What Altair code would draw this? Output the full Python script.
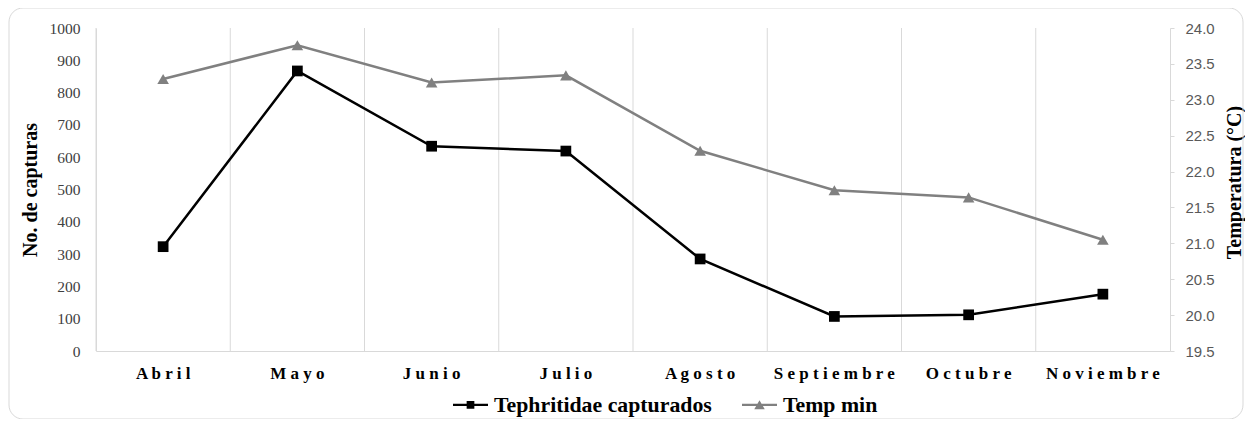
import altair as alt
import pandas as pd

meses = ['Abril', 'Mayo', 'Junio', 'Julio', 'Agosto', 'Septiembre', 'Octubre', 'Noviembre']
capturas = [323, 867, 634, 619, 285, 107, 112, 176]
temp_min = [23.29, 23.76, 23.24, 23.34, 22.29, 21.74, 21.64, 21.05]
series = ['Tephritidae capturados', 'Temp min']
left_ticks = [0, 100, 200, 300, 400, 500, 600, 700, 800, 900, 1000]
right_ticks = [19.5, 20.0, 20.5, 21.0, 21.5, 22.0, 22.5, 23.0, 23.5, 24.0]

df = pd.DataFrame({'mes': meses, 'capturas': capturas, 'temp': temp_min})
df_leg = pd.DataFrame({'serie': series})

W, H = 1074, 323
SERIF = 'Liberation Serif'
SANS = 'Liberation Sans'
GRID = '#d9d9d9'

xscale = alt.Scale(type='band', paddingInner=0, paddingOuter=0)
xaxis = alt.Axis(
    title=None, ticks=False, grid=False, domainColor=GRID, domainWidth=1,
    labelFont=SERIF, labelFontSize=17, labelFontWeight='bold', labelColor='black',
    labelPadding=14, labelAngle=0, labelLimit=0,
    labelExpr="join(split(datum.label, ''), ' ')",
)


def xenc(**kw):
    return alt.X('mes:N', sort=meses, scale=xscale, axis=xaxis, **kw)


base = alt.Chart(df)

frame = alt.Chart(pd.DataFrame({'a': [0]})).mark_rect(
    fill='white', fillOpacity=0, stroke=GRID, strokeWidth=1, cornerRadius=14
).encode(
    x=alt.value(-87), x2=alt.value(W + 73), y=alt.value(-20), y2=alt.value(H + 68)
)

grid = base.mark_rule(color=GRID, strokeWidth=1).encode(
    x=xenc(bandPosition=0), y=alt.value(0), y2=alt.value(H)
)

yleft = alt.Y(
    'capturas:Q',
    scale=alt.Scale(domain=[0, 1000], nice=False),
    axis=alt.Axis(
        orient='left', values=left_ticks, format='d', ticks=False, grid=False,
        domainColor=GRID, labelFont=SERIF, labelFontSize=15.5, labelColor='#404040',
        labelPadding=16, title='No. de capturas', titleFont=SERIF, titleFontSize=20,
        titleFontWeight='bold', titleColor='black', titlePadding=9,
    ),
)

yright = alt.Y(
    'temp:Q',
    scale=alt.Scale(domain=[19.5, 24.0], nice=False, zero=False),
    axis=alt.Axis(
        orient='right', values=right_ticks, format='.1f', ticks=True, tickSize=4,
        tickColor=GRID, grid=False, domainColor=GRID, labelFont=SANS,
        labelFontSize=15, labelColor='#595959', labelPadding=11,
        title='Temperatura (°C)', titleFont=SERIF, titleFontSize=20,
        titleFontWeight='bold', titleColor='black', titlePadding=10,
        titleAngle=270, titleBaseline='top', titleY=154,
    ),
)

left_line = base.mark_line(color='black', strokeWidth=2.5).encode(x=xenc(), y=yleft)
left_pts = base.mark_point(shape='square', filled=True, size=115, color='black', opacity=1).encode(
    x=xenc(), y=yleft
)
left = alt.layer(left_line, left_pts)

right_line = base.mark_line(color='#808080', strokeWidth=2.5).encode(x=xenc(), y=yright)
right_pts = base.mark_point(shape='triangle-up', filled=True, size=135, color='#808080', opacity=1).encode(
    x=xenc(), y=yright
)
right = alt.layer(right_line, right_pts)

sq_path = 'M-1,-0.07H1V0.07H-1Z M-0.22,-0.22H0.22V0.22H-0.22Z'
tri_path = 'M-1,-0.07H1V0.07H-1Z M0,-0.27L0.3,0.25H-0.3Z'

leg = alt.Legend(
    title=None, orient='none', legendX=357, legendY=359, direction='horizontal',
    symbolSize=1225, symbolStrokeWidth=0, labelFont=SERIF, labelFontSize=21.8,
    labelFontWeight='bold', labelColor='black', labelOffset=6, columnPadding=30,
    padding=0, labelLimit=0,
)

legend_layer = alt.Chart(df_leg).transform_filter('false').mark_point(filled=True, opacity=1).encode(
    color=alt.Color('serie:N', scale=alt.Scale(domain=series, range=['black', '#808080']), legend=leg),
    shape=alt.Shape('serie:N', scale=alt.Scale(domain=series, range=[sq_path, tri_path]), legend=leg),
)

chart = alt.layer(frame, grid, right, left, legend_layer).resolve_scale(
    y='independent'
).properties(
    width=W, height=H,
    padding={'left': 88, 'top': 20, 'right': 75, 'bottom': 68},
    autosize=alt.AutoSizeParams(type='none'),
).configure_view(strokeWidth=0)

chart.save('out.html', embed_options={'renderer': 'svg', 'actions': False})
